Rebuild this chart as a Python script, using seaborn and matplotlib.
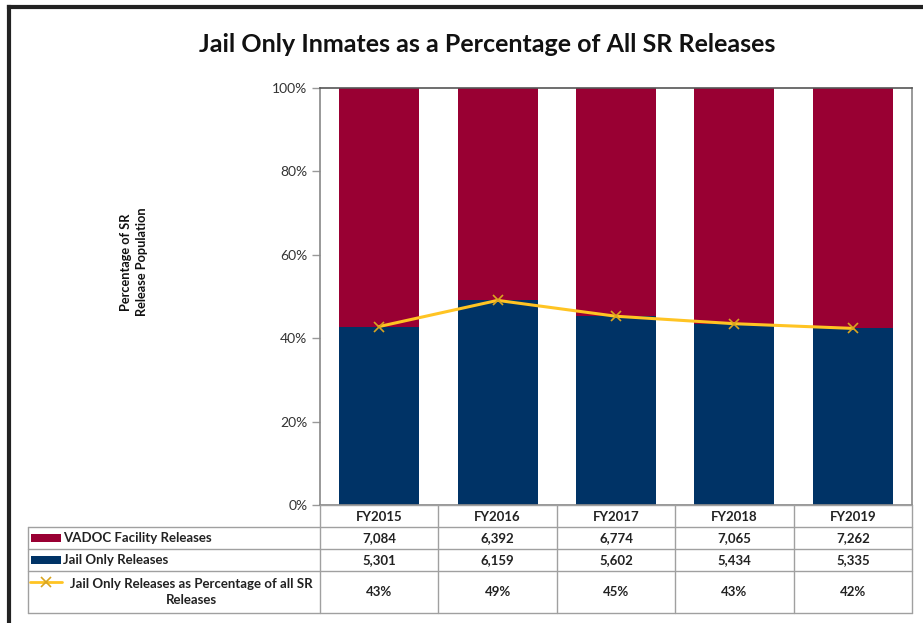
import matplotlib
matplotlib.use("Agg")
import matplotlib.pyplot as plt
import seaborn as sns
import pandas as pd
import numpy as np
from matplotlib.patches import Rectangle

# ---- data ----
years = ["FY2015", "FY2016", "FY2017", "FY2018", "FY2019"]
vadoc_releases = [7084, 6392, 6774, 7065, 7262]
jail_releases = [5301, 6159, 5602, 5434, 5335]
row_labels = ["VADOC Facility Releases", "Jail Only Releases",
              "Jail Only Releases as Percentage of all SR\nReleases"]
title = "Jail Only Inmates as a Percentage of All SR Releases"
ylabel = "Percentage of SR\nRelease Population"

sns.set_style("white")
plt.rcParams['font.family'] = ['Lato', 'DejaVu Sans']

RED = "#990033"
NAVY = "#003366"
YEL = "#FFC423"
MK = "#D9A520"

W, H = 923, 623
fig = plt.figure(figsize=(W / 100, H / 100), dpi=100)

def fx(x): return x / W
def fy(y): return 1 - y / H

total = np.array(vadoc_releases) + np.array(jail_releases)
jail_pct = np.array(jail_releases) / total * 100
df = pd.DataFrame({"year": years, "total": [100.0] * 5, "jail": jail_pct})

ax = fig.add_axes([fx(320), fy(505), fx(912) - fx(320), fy(88) - fy(505)])
sns.barplot(data=df, x="year", y="total", color=RED, width=0.676, ax=ax,
            saturation=1, edgecolor="none")
sns.barplot(data=df, x="year", y="jail", color=NAVY, width=0.676, ax=ax,
            saturation=1, edgecolor="none")
ax.plot(range(len(years)), jail_pct, color=YEL, lw=2.2, marker="x",
        markersize=7, markeredgecolor=MK, markeredgewidth=1.2, zorder=5)
ax.set_xlim(-0.5, 4.5)
ax.set_ylim(0, 100)
ax.set_yticks([0, 20, 40, 60, 80, 100])
ax.set_yticklabels(["0%", "20%", "40%", "60%", "80%", "100%"],
                   fontsize=10, color="#333333")
ax.set_xticks([])
ax.set_xlabel("")
ax.set_ylabel("")
ax.tick_params(axis="y", length=6, width=1, color="#999999", direction="out",
               left=True, pad=3)
for s in ax.spines.values():
    s.set_color("#888888")
    s.set_linewidth(1.2)
ax.spines["top"].set_color("#555555")

# title & y label
fig.text(fx(487), fy(45), title, ha="center", va="center",
         fontsize=18, fontweight="bold", color="#111111")
fig.text(fx(134), fy(262), ylabel, ha="center", va="center", rotation=90,
         fontsize=9.2, fontweight="bold", color="#111111", linespacing=1.5)

# ---- data table ----
tx = fig.add_axes([0, 0, 1, 1], facecolor="none")
tx.set_xlim(0, W)
tx.set_ylim(H, 0)
tx.axis("off")

grid_c = "#A0A0A0"
col_edges = [320 + i * 118.4 for i in range(6)]
row_edges = [527, 549, 571, 613]
tx.plot([320, 912], [505, 505], color=grid_c, lw=1)
for y in row_edges:
    tx.plot([28, 912], [y, y], color=grid_c, lw=1)
tx.plot([28, 28], [527, 613], color=grid_c, lw=1)
for x in col_edges:
    tx.plot([x, x], [505, 613], color=grid_c, lw=1)

tfs = 9.5
for i, yr in enumerate(years):
    cx = (col_edges[i] + col_edges[i + 1]) / 2
    tx.text(cx, 517, yr, ha="center", va="center", fontsize=tfs,
            fontweight="bold", color="#222222")
    tx.text(cx, 538, f"{vadoc_releases[i]:,}", ha="center", va="center",
            fontsize=tfs, fontweight="bold", color="#222222")
    tx.text(cx, 560, f"{jail_releases[i]:,}", ha="center", va="center",
            fontsize=tfs, fontweight="bold", color="#222222")
    tx.text(cx, 592, f"{jail_pct[i]:.0f}%", ha="center", va="center",
            fontsize=tfs, fontweight="bold", color="#222222")

# legend keys
tx.add_patch(Rectangle((31, 534), 30, 8, color=RED, lw=0))
tx.add_patch(Rectangle((31, 556), 30, 8, color=NAVY, lw=0))
tx.plot([30, 62], [582, 582], color=YEL, lw=2)
tx.plot([46], [582], marker="x", color=MK, markersize=7, mew=1.2)

tx.text(63, 538, row_labels[0], ha="left", va="center", fontsize=tfs,
        fontweight="bold", color="#222222")
tx.text(63, 560, row_labels[1], ha="left", va="center", fontsize=tfs,
        fontweight="bold", color="#222222")
tx.text(191, 592, row_labels[2], ha="center", va="center", fontsize=tfs,
        fontweight="bold", color="#222222", linespacing=1.45,
        multialignment="center")

# outer frame (left & top)
tx.plot([9, 9], [7, H + 5], color="#222222", lw=3, solid_capstyle="projecting")
tx.plot([9, W + 5], [7, 7], color="#222222", lw=3, solid_capstyle="projecting")

fig.savefig("out.png", dpi=100)
